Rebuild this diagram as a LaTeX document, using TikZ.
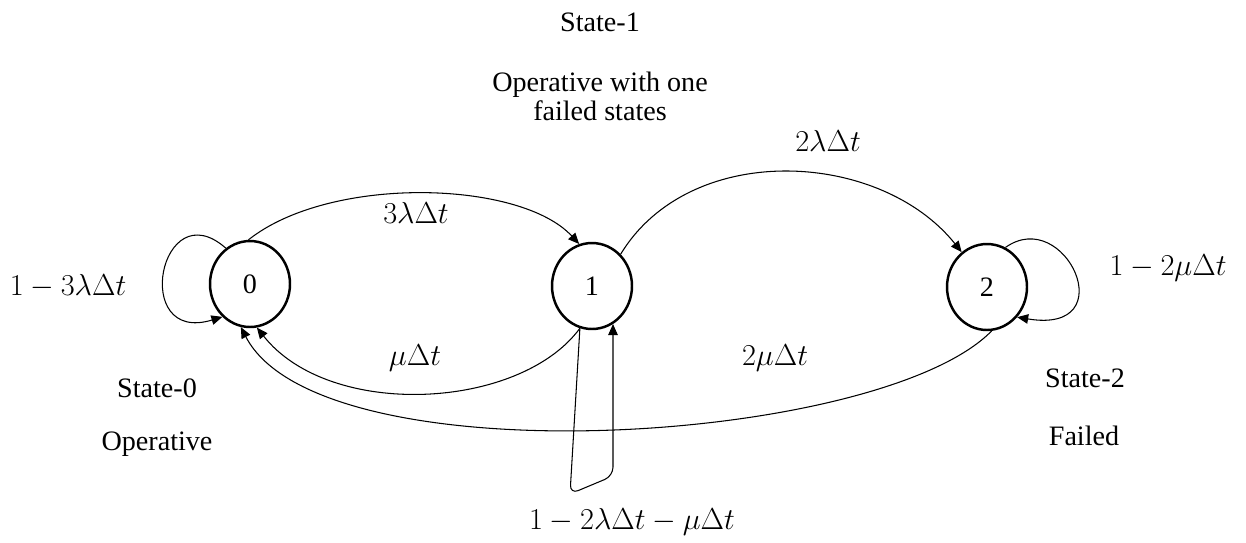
\documentclass[tikz,border=0pt]{standalone}
\usepackage{fontspec}
\setmainfont{Liberation Serif}
\usetikzlibrary{arrows.meta,shapes.geometric}

\tikzset{
    stato/.style={ellipse,draw,line width=1.4pt,minimum width=1.6cm,minimum height=1.72cm,inner sep=0pt},
    freccia/.style={-{Triangle[length=0.22cm,width=0.19cm]},line width=0.6pt}
}

\begin{document}
\begin{tikzpicture}[x=0.02cm,y=-0.02cm,font=\fontsize{16}{19}\selectfont]
\useasboundingbox (0,0) rectangle (1246,542);

%====================================================
% Stati
%====================================================

\node[stato] (S0) at (250,284) {0};
\node[stato] (S1) at (592,286) {1};
\node[stato] (S2) at (987,287) {2};

\node (nS1) at (600,22) {State-1};
\node (dS1a) at (600,85) {Operative with one};
\node (dS1b) at (600,111) {failed states};

\node (nS0) at (157,388) {State-0};
\node (dS0) at (157,444) {Operative};

\node (nS2) at (1085,378) {State-2};
\node (dS2) at (1084,436) {Failed};

%====================================================
% Transizioni in avanti
%====================================================

\draw[freccia] (S0.92) .. controls (330,175) and (520,180) .. (S1.107);
\draw[freccia] (S1.48) .. controls (690,140) and (880,150) .. (S2.126);

\node (p01) at (416,213) {$3\lambda\Delta t$};
\node (p12) at (828,141) {$2\lambda\Delta t$};

%====================================================
% Riparazioni
%====================================================

\draw[freccia] (S1.-106) .. controls (520,410) and (330,420) .. (S0.-81);
\draw[freccia] (S2.-84) .. controls (880,445) and (320,480) .. (S0.-102);

\node (p10) at (415,358) {$\mu\Delta t$};
\node (p20) at (775,358) {$2\mu\Delta t$};

%====================================================
% Anelli
%====================================================

\draw[freccia] (S0.124) .. controls (160,190) and (130,345) .. (S0.-130);
\draw[freccia] (S2.65) .. controls (1065,205) and (1125,335) .. (S2.-45);

\coordinate (L1a) at (570,494);
\coordinate (L1b) at (613,476);
\draw[freccia,rounded corners=5pt] (S1.-106) -- (L1a) -- (L1b) -- (L1b |- S1.-61);

\node (p00) at (68,286) {$1-3\lambda\Delta t$};
\node (p22) at (1168,268) {$1-2\mu\Delta t$};
\node (p11) at (632,522) {$1-2\lambda\Delta t-\mu\Delta t$};

\end{tikzpicture}
\end{document}
